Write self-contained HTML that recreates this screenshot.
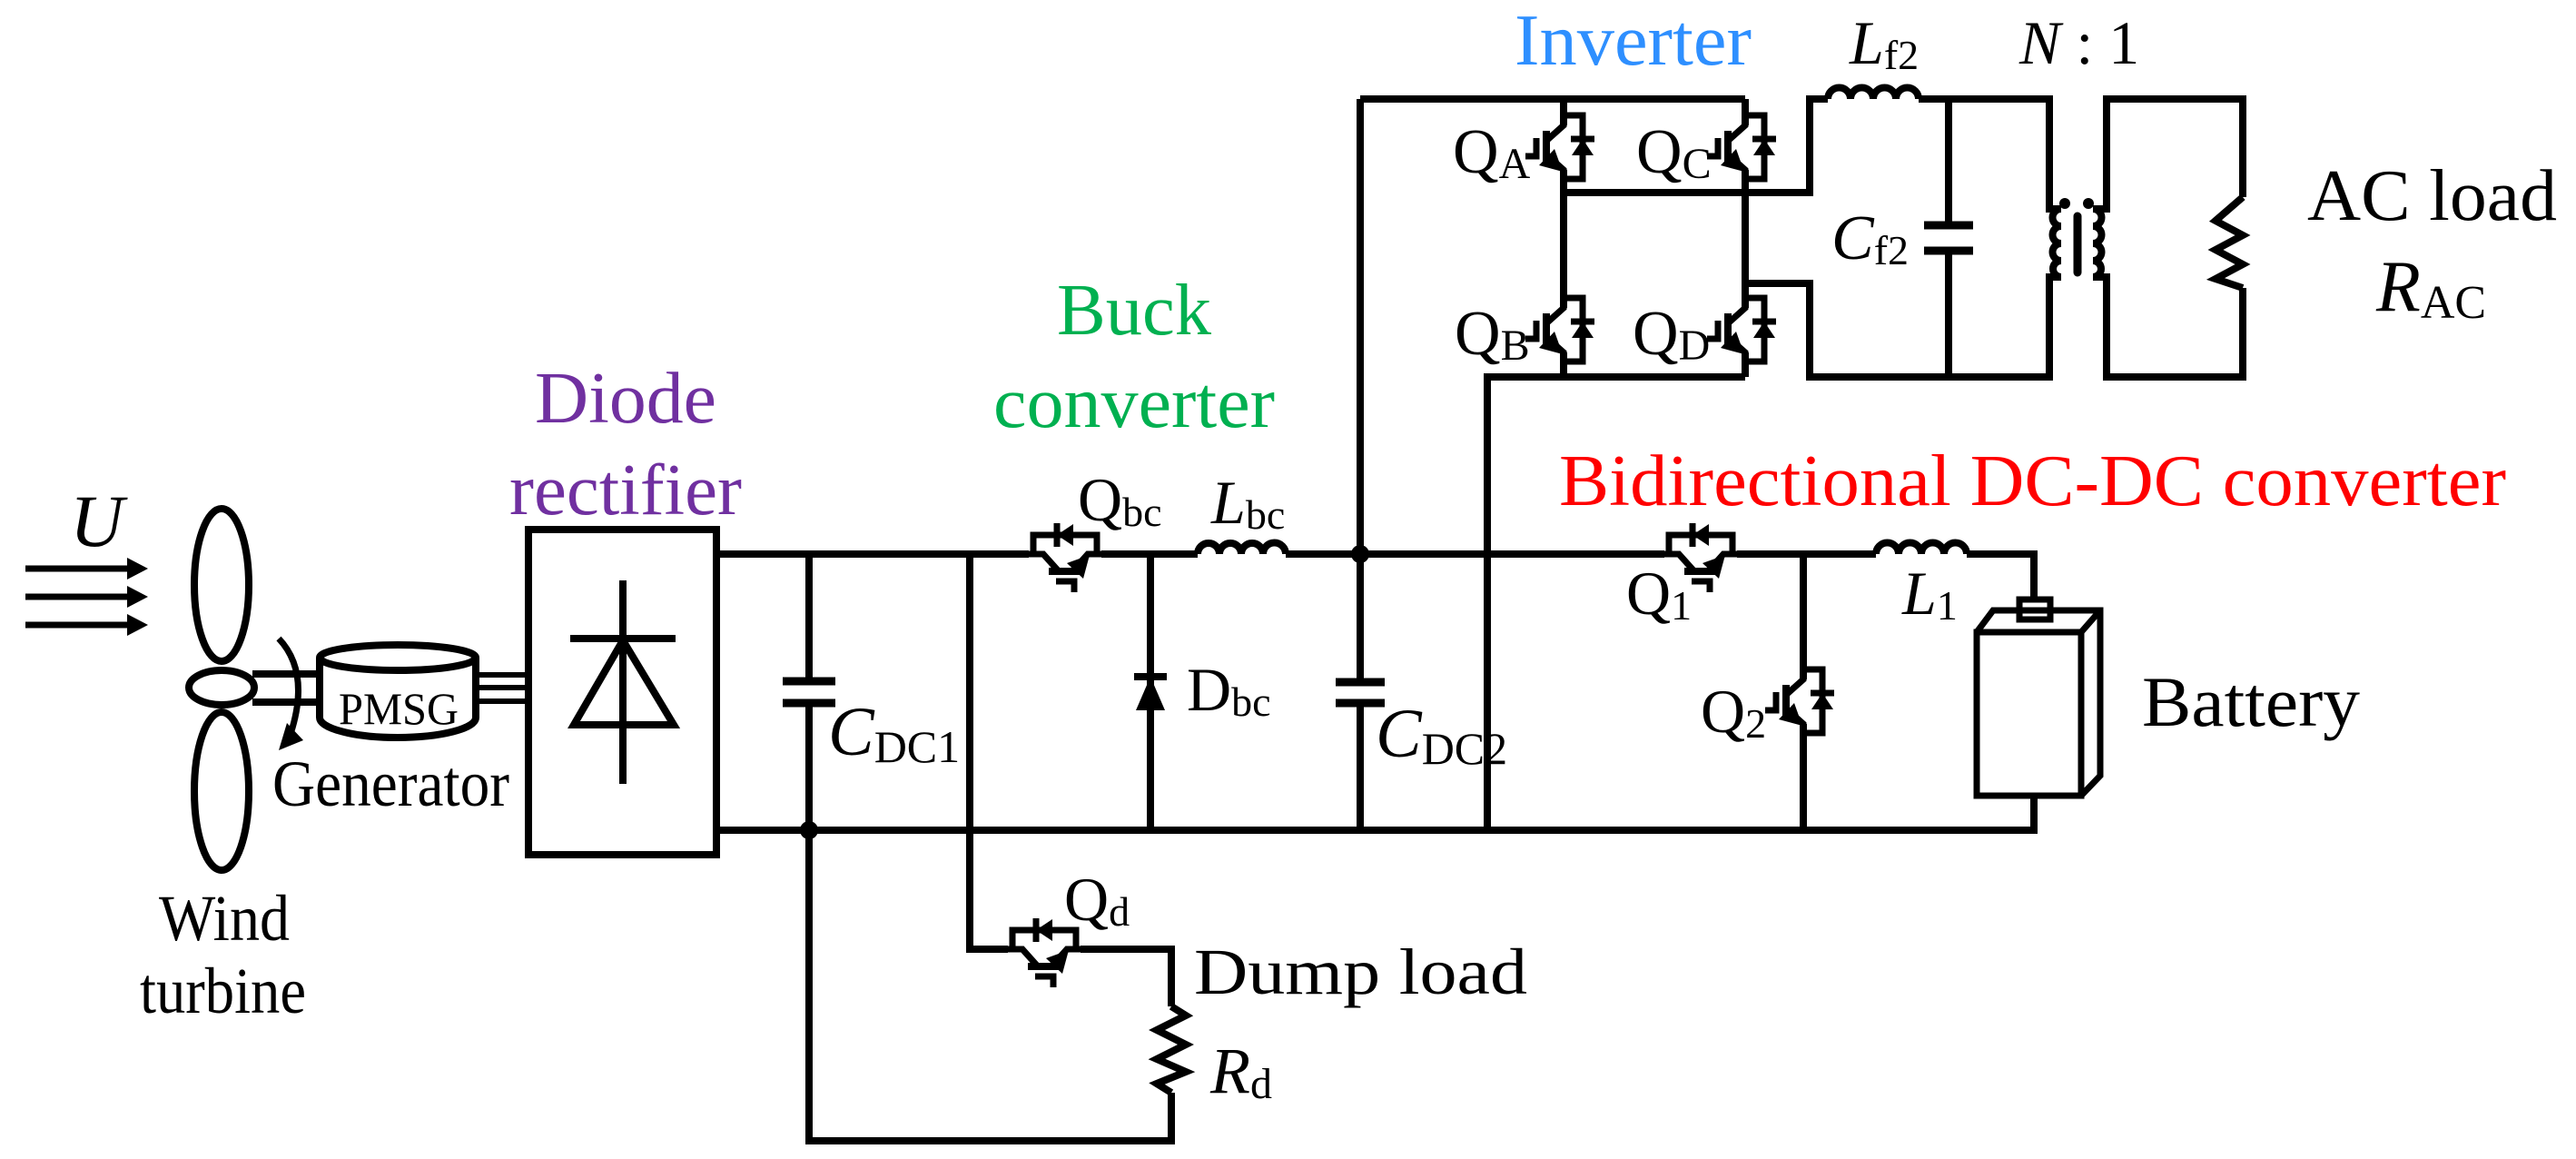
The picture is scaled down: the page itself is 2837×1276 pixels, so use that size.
<!DOCTYPE html>
<html><head><meta charset="utf-8"><style>
html,body{margin:0;padding:0;background:#fff;}
svg{display:block;}
text{font-family:"Liberation Serif",serif;}
</style></head><body>
<svg width="2837" height="1276" viewBox="0 0 2837 1276" xmlns="http://www.w3.org/2000/svg">
<defs>
<g id="igbt">
  <rect x="-5" y="-24" width="10" height="49" fill="#fff"/>
  <g fill="none" stroke="#000" stroke-width="7" stroke-linejoin="miter">
    <path d="M0,-40 V-24 L-19,-7"/>
    <path d="M-19,-18 V20" stroke-width="8"/>
    <path d="M-19,8 L0,25 V40"/>
    <path d="M-30,-10 V10 H-42"/>
    <path d="M0,-35 H21 V35 H0"/>
    <path d="M8,-9 H34"/>
  </g>
  <polygon points="21,-9 9,9 33,9" fill="#000"/>
  <polygon points="-1,27 -27,20 -10,2" fill="#000"/>
</g>
</defs>

<g fill="none" stroke="#000" stroke-width="8" stroke-linecap="butt" stroke-linejoin="miter">
  <!-- wind arrows -->
  <path d="M28,626 H140 M28,657 H140 M28,688 H140" stroke-width="7"/>
  <!-- blades -->
  <ellipse cx="244" cy="644" rx="30" ry="84"/>
  <ellipse cx="244" cy="871" rx="30" ry="87"/>
  <path d="M278,742 H352 M278,773 H352"/>
  <ellipse cx="244" cy="757" rx="36" ry="19" fill="#fff"/>
  <!-- rotation arrow -->
  <path d="M307,703 Q342,740 320,808" stroke-width="7"/>
  <!-- PMSG -->
  <path d="M352,724 V790 A86,22 0 0 0 524,790 V724"/>
  <ellipse cx="438" cy="724" rx="86" ry="14"/>
  <path d="M524,743 H582 M524,757 H582 M524,772 H582" stroke-width="6"/>
  <!-- rectifier -->
  <rect x="582" y="583" width="207" height="358"/>
  <path d="M686,639 V863 M628,703 H744"/>
  <polygon points="686,705 632,798 742,798"/>
  <!-- top bus -->
  <path d="M789,610 H1133 M1213,610 H1319 M1416,610 H1833 M1913,610 H2066 M2166,610 H2240 V660"/>
  <!-- bottom bus -->
  <path d="M789,914 H2240 V876"/>
  <!-- CDC1 / dump -->
  <path d="M891,610 V750 M891,774 V1256 H1290 V1203 M1290,1108 V1045 H1190 M1110,1045 H1068 V610"/>
  <path d="M862,750 H920 M862,774 H920" stroke-width="9"/>
  <!-- Dbc -->
  <path d="M1267,610 V914 M1249,745 H1285" />
  <!-- Lbc -->
  <path d="M1319,610 a12,12 0 0 1 24,0 a12,12 0 0 1 24,0 a12,12 0 0 1 24,0 a12,12 0 0 1 25,0"/>
  <!-- CDC2 column -->
  <path d="M1498,109 V751 M1498,774 V914"/>
  <path d="M1471,751 H1525 M1471,774 H1525" stroke-width="9"/>
  <!-- inverter -->
  <path d="M1498,109 H1922 M1722,109 V415 M1922,109 V415 M1638,914 V415 H1922"/>
  <path d="M1722,212 H1993 V109 H2013 M2113,109 H2257 V230 H2270 M2270,305 H2257 V415 H1993 V312 H1922"/>
  <path d="M2013,109 a12.5,12.5 0 0 1 25,0 a12.5,12.5 0 0 1 25,0 a12.5,12.5 0 0 1 25,0 a12.5,12.5 0 0 1 25,0"/>
  <path d="M2146,109 V248 M2146,276 V415"/>
  <path d="M2119,248 H2173 M2119,276 H2173" stroke-width="9"/>
  <!-- transformer -->
  <path d="M2270,230 a9,9 0 0 0 0,19 a9,9 0 0 0 0,19 a9,9 0 0 0 0,19 a9,9 0 0 0 0,18"/>
  <path d="M2305,230 a9,9 0 0 1 0,19 a9,9 0 0 1 0,19 a9,9 0 0 1 0,19 a9,9 0 0 1 0,18"/>
  <path d="M2305,230 H2320 V109 H2470 V217 M2305,305 H2320 V415 H2470 V317"/>
  <path d="M2288,238 V300" stroke-width="9" stroke-linecap="round"/>
  <path d="M2470,217 L2440,243 L2470,259 L2440,275 L2470,291 L2440,307 L2470,317"/>
  <!-- Rd -->
  <path d="M1290,1108 L1306,1118 L1274,1134 L1306,1150 L1274,1166 L1306,1180 L1274,1193 L1290,1203"/>
  <!-- L1 -->
  <path d="M2066,610 a12.5,12.5 0 0 1 25,0 a12.5,12.5 0 0 1 25,0 a12.5,12.5 0 0 1 25,0 a12.5,12.5 0 0 1 25,0"/>
  <!-- Q2 column -->
  <path d="M1986,610 V914"/>
  <!-- battery -->
  <rect x="2224" y="660" width="34" height="22" stroke-width="7"/>
  <path d="M2177,696 V876 H2292 V696 Z M2177,696 L2195,672 H2313 V854 L2292,876 M2292,696 L2313,672" stroke-width="7"/>
</g>
<circle cx="2274" cy="224" r="6" fill="#000"/>
<circle cx="2300" cy="224" r="6" fill="#000"/>
<polygon points="140,614 163,626 140,638" fill="#000"/>
<polygon points="140,645 163,657 140,669" fill="#000"/>
<polygon points="140,676 163,688 140,700" fill="#000"/>
<polygon points="307,826 334,815 316,796" fill="#000"/>
<polygon points="1267,745 1251,782 1283,782" fill="#000"/>
<circle cx="891" cy="914" r="10" fill="#000"/>
<circle cx="1498" cy="610" r="10" fill="#000"/>

<!-- IGBTs -->
<use href="#igbt" transform="translate(1173,610) rotate(-90)"/>
<use href="#igbt" transform="translate(1873,610) rotate(-90)"/>
<use href="#igbt" transform="translate(1150,1045) rotate(-90)"/>
<use href="#igbt" transform="translate(1722,162)"/>
<use href="#igbt" transform="translate(1722,363)"/>
<use href="#igbt" transform="translate(1922,162)"/>
<use href="#igbt" transform="translate(1922,363)"/>
<use href="#igbt" transform="translate(1986,772)"/>

<!-- text -->
<g font-size="80" fill="#000">
  <text x="77" y="601" font-style="italic" font-size="82">U</text>
  <text x="589" y="465" fill="#7030A0" textLength="200" lengthAdjust="spacingAndGlyphs">Diode</text>
  <text x="561" y="566" fill="#7030A0" textLength="256" lengthAdjust="spacingAndGlyphs">rectifier</text>
  <text x="373" y="797" font-size="50" textLength="132" lengthAdjust="spacingAndGlyphs">PMSG</text>
  <text x="300" y="887" font-size="72" textLength="261" lengthAdjust="spacingAndGlyphs">Generator</text>
  <text x="175" y="1035" font-size="72" textLength="144" lengthAdjust="spacingAndGlyphs">Wind</text>
  <text x="154" y="1115" font-size="72" textLength="183" lengthAdjust="spacingAndGlyphs">turbine</text>
  <text x="912" y="831" font-size="76"><tspan font-style="italic">C</tspan><tspan font-size="50" dy="8">DC1</tspan></text>
  <text x="1164" y="368" fill="#00B050" textLength="170" lengthAdjust="spacingAndGlyphs">Buck</text>
  <text x="1094" y="470" fill="#00B050" textLength="310" lengthAdjust="spacingAndGlyphs">converter</text>
  <text x="1187" y="573" font-size="68">Q<tspan font-size="46" dy="6">bc</tspan></text>
  <text x="1334" y="576" font-size="68"><tspan font-style="italic">L</tspan><tspan font-size="46" dy="6">bc</tspan></text>
  <text x="1307" y="782" font-size="68">D<tspan font-size="46" dy="6">bc</tspan></text>
  <text x="1515" y="833" font-size="76"><tspan font-style="italic">C</tspan><tspan font-size="50" dy="8">DC2</tspan></text>
  <text x="1172" y="1013" font-size="68">Q<tspan font-size="46" dy="6">d</tspan></text>
  <text x="1315" y="1094" font-size="72" textLength="367" lengthAdjust="spacingAndGlyphs">Dump load</text>
  <text x="1333" y="1203" font-size="72"><tspan font-style="italic">R</tspan><tspan font-size="48" dy="6">d</tspan></text>
  <text x="1668" y="71" fill="#2E8FFF" textLength="261" lengthAdjust="spacingAndGlyphs">Inverter</text>
  <text x="2037" y="70" font-size="68"><tspan font-style="italic">L</tspan><tspan font-size="46" dy="6">f2</tspan></text>
  <text x="2224" y="70" font-size="68"><tspan font-style="italic">N</tspan> : 1</text>
  <text x="1600" y="190" font-size="70">Q<tspan font-size="48" dy="6">A</tspan></text>
  <text x="1802" y="190" font-size="70">Q<tspan font-size="48" dy="6">C</tspan></text>
  <text x="1602" y="390" font-size="70">Q<tspan font-size="48" dy="6">B</tspan></text>
  <text x="1798" y="390" font-size="70">Q<tspan font-size="48" dy="6">D</tspan></text>
  <text x="2017" y="285" font-size="70"><tspan font-style="italic">C</tspan><tspan font-size="46" dy="6">f2</tspan></text>
  <text x="2541" y="242" textLength="275" lengthAdjust="spacingAndGlyphs">AC load</text>
  <text x="2617" y="342"><tspan font-style="italic">R</tspan><tspan font-size="52" dy="8">AC</tspan></text>
  <text x="1717" y="556" fill="#FF0000" textLength="1043" lengthAdjust="spacingAndGlyphs">Bidirectional DC-DC converter</text>
  <text x="1791" y="676" font-size="68">Q<tspan font-size="46" dy="6">1</tspan></text>
  <text x="2095" y="676" font-size="68"><tspan font-style="italic">L</tspan><tspan font-size="46" dy="6">1</tspan></text>
  <text x="1873" y="806" font-size="68">Q<tspan font-size="46" dy="6">2</tspan></text>
  <text x="2359" y="799" font-size="78" textLength="240" lengthAdjust="spacingAndGlyphs">Battery</text>
</g>
</svg>
</body></html>
